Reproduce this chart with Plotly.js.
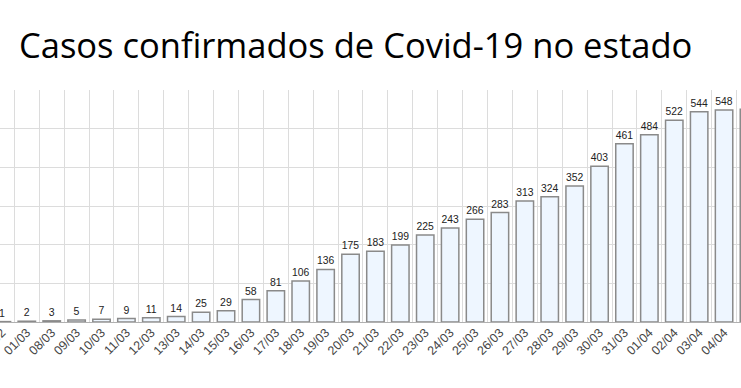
<!DOCTYPE html>
<html>
<head>
<meta charset="utf-8">
<script src="https://cdn.plot.ly/plotly-3.0.1.min.js"></script>
<style>html,body{margin:0;padding:0;background:#fff;}#chart{width:741px;height:388px;}</style>
</head>
<body>
<div id="chart"></div>
<script>
const titleText = "Casos confirmados de Covid-19 no estado";
const dates = ["29/02","01/03","08/03","09/03","10/03","11/03","12/03","13/03","14/03","15/03","16/03","17/03","18/03","19/03","20/03","21/03","22/03","23/03","24/03","25/03","26/03","27/03","28/03","29/03","30/03","31/03","01/04","02/04","03/04","04/04","05/04"];
const cases = [1,2,3,5,7,9,11,14,25,29,58,81,106,136,175,183,199,225,243,266,283,313,324,352,403,461,484,522,544,548,550];

const trace = {
  type: "bar",
  x: dates,
  y: cases,
  text: cases.map(String),
  textposition: "outside",
  cliponaxis: false,
  textfont: {family: "Liberation Sans, Arial, sans-serif", size: 10.5, color: "#222"},
  marker: {color: "#eef6ff", line: {color: "#8a8a8a", width: 1.5}},
  width: 0.7,
  hoverinfo: "none"
};

const layout = {
  width: 741, height: 388,
  margin: {l: 0, r: 0, t: 90, b: 66, pad: 0},
  paper_bgcolor: "#fff", plot_bgcolor: "#fff",
  showlegend: false,
  title: {
    text: titleText,
    font: {family: "Open Sans, sans-serif", size: 34.5, color: "#000"},
    xref: "container", yref: "container",
    x: 19/741, xanchor: "left",
    y: 1 - 46/388, yanchor: "middle"
  },
  xaxis: {
    type: "category",
    range: [-0.076, 29.68],
    tickson: "boundaries",
    showgrid: true, gridcolor: "#dcdcdc", gridwidth: 1,
    ticks: "", tickangle: -45,
    tickfont: {family: "Liberation Sans, Arial, sans-serif", size: 12.5, color: "#444"},
    showline: false, zeroline: false, fixedrange: true
  },
  yaxis: {
    range: [0, 600],
    dtick: 100,
    showgrid: true, gridcolor: "#dcdcdc", gridwidth: 1,
    showticklabels: false, ticks: "",
    zeroline: true, zerolinecolor: "#b0b0b0", zerolinewidth: 1,
    showline: false, fixedrange: true
  },
  bargap: 0.3
};

Plotly.newPlot("chart", [trace], layout, {displayModeBar: false, staticPlot: true});
</script>
</body>
</html>
